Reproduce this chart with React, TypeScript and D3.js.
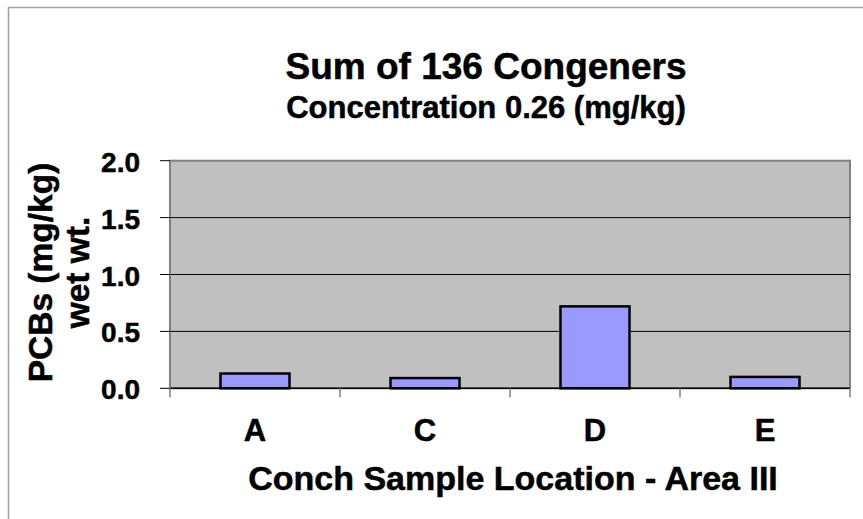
import React from "react";
import * as d3 from "d3";

const categories = ["A", "C", "D", "E"];
const values = [0.13, 0.09, 0.72, 0.10];
const yTicks = [0, 0.5, 1.0, 1.5, 2.0];
const titleText = "Sum of 136 Congeners";
const subtitleText = "Concentration 0.26 (mg/kg)";
const yTitleLines = ["PCBs (mg/kg)", "wet wt."];
const xTitleText = "Conch Sample Location - Area III";

const W = 863;
const H = 519;
const plot = { left: 170, right: 850, top: 160.7, bottom: 388.3 };
const FONT = "Arial, 'Liberation Sans', Helvetica, sans-serif";
const TXT = { fontWeight: "bold" as const, fill: "#000", stroke: "#000", strokeWidth: 0.5 };

export default function App() {
  const x = d3
    .scaleBand<string>()
    .domain(categories)
    .range([plot.left, plot.right])
    .paddingInner(0.594)
    .paddingOuter(0.297);
  const y = d3.scaleLinear().domain([0, 2]).range([plot.bottom, plot.top]);
  const step = x.step();
  const boundaries = categories.map((c) => (x(c) as number) - (step - x.bandwidth()) / 2).concat([plot.right]);

  return (
    <div style={{ position: "fixed", left: 0, top: 0 }}>
      <svg width={W} height={H} style={{ display: "block", fontFamily: FONT }}>
        <rect x={0} y={0} width={W} height={H} fill="#ffffff" />
        <rect x={8.5} y={7.5} width={880} height={540} fill="#ffffff" stroke="#a0a0a0" strokeWidth={1.5} />

        <text x={486} y={79} textAnchor="middle" fontSize={37} {...TXT}>
          {titleText}
        </text>
        <text x={486} y={118} textAnchor="middle" fontSize={31} {...TXT}>
          {subtitleText}
        </text>

        <rect
          x={plot.left}
          y={plot.top}
          width={plot.right - plot.left}
          height={plot.bottom - plot.top}
          fill="#c0c0c0"
          stroke="#808080"
          strokeWidth={2}
        />
        {yTicks.filter((t) => t > 0 && t < 2).map((t) => (
          <line key={"g" + t} x1={plot.left} x2={plot.right} y1={y(t)} y2={y(t)} stroke="#000" strokeWidth={1} />
        ))}

        {categories.map((c, i) => (
          <rect
            key={c}
            x={x(c)}
            y={y(values[i])}
            width={x.bandwidth()}
            height={y(0) - y(values[i])}
            fill="#9999ff"
            stroke="#000"
            strokeWidth={2.5}
          />
        ))}

        <line x1={plot.left} x2={plot.right} y1={plot.bottom} y2={plot.bottom} stroke="#000" strokeWidth={1.5} />
        <line x1={plot.left} x2={plot.left} y1={plot.top} y2={plot.bottom} stroke="#808080" strokeWidth={1} />
        {yTicks.map((t) => (
          <g key={"t" + t}>
            <line x1={plot.left - 10} x2={plot.left} y1={y(t)} y2={y(t)} stroke="#000" strokeWidth={1} />
            <text x={140} y={y(t) + 11} textAnchor="end" fontSize={28} {...TXT}>
              {t.toFixed(1)}
            </text>
          </g>
        ))}
        {boundaries.map((b, i) => (
          <line key={"xb" + i} x1={b} x2={b} y1={plot.bottom} y2={plot.bottom + 9} stroke="#808080" strokeWidth={1.5} />
        ))}
        {categories.map((c) => (
          <text
            key={"xl" + c}
            x={(x(c) as number) + x.bandwidth() / 2}
            y={441}
            textAnchor="middle"
            fontSize={31}
            {...TXT}
          >
            {c}
          </text>
        ))}

        <text x={513} y={490} textAnchor="middle" fontSize={34} {...TXT}>
          {xTitleText}
        </text>

        <g transform={`translate(0, ${(plot.top + plot.bottom) / 2 - 2}) rotate(-90)`}>
          <text x={0} y={52} textAnchor="middle" fontSize={33.5} {...TXT}>
            {yTitleLines[0]}
          </text>
          <text x={0} y={89} textAnchor="middle" fontSize={33.5} {...TXT}>
            {yTitleLines[1]}
          </text>
        </g>
      </svg>
    </div>
  );
}
